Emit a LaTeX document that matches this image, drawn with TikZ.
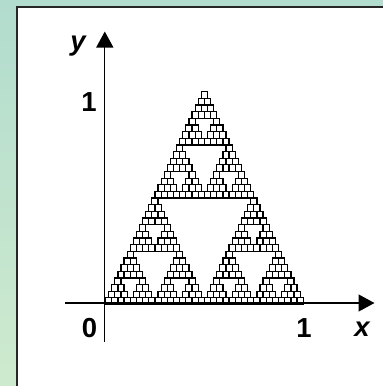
\documentclass[tikz,border=0pt]{standalone}
\usepackage{fontspec}
\setmainfont{Liberation Sans}
\usetikzlibrary{arrows.meta}
\definecolor{bgtop}{RGB}{178,220,206}
\definecolor{bgbot}{RGB}{206,234,206}
\tikzset{
  axis/.style={line width=1.3pt, black, -{Triangle[length=16pt,width=17pt]}},
  sq/.style={draw=black, fill=white, line width=1.25pt},
  lab/.style={font=\fontsize{27.5}{27.5}\selectfont\bfseries, inner sep=0pt},
  panel/.style={fill=white, draw=black!85, line width=2pt}
}
\begin{document}
\begin{tikzpicture}[x=1pt,y=-1pt]
\useasboundingbox (0,0) rectangle (383,386);
\clip (0,0) rectangle (383,386);
\shade[top color=bgtop, bottom color=bgbot] (0,0) rectangle (383,386);
\draw[panel] (17,6.5) rectangle (420,420);
% Sierpinski triangle of squares
\def\w{6.18}
\def\h{6.65}
\foreach \ax/\ar in {0/0,-1/1,1/1}{
 \foreach \bx/\br in {0/0,-1/1,1/1}{
  \foreach \cx/\cr in {0/0,-1/1,1/1}{
   \foreach \dx/\dr in {0/0,-1/1,1/1}{
    \foreach \ex/\er in {0/0,-1/1,1/1}{
     \pgfmathsetmacro\col{0.5*\ax+1*\bx+2*\cx+4*\dx+8*\ex}
     \pgfmathsetmacro\row{\ar+2*\br+4*\cr+8*\dr+16*\er}
     \pgfmathsetmacro\px{204.4+\w*\col-\w/2}
     \pgfmathsetmacro\py{91.7+\h*\row}
     \draw[sq] (\px,\py) rectangle ++(\w,\h);
    }}}}}
% axes
\coordinate (xs) at (65,303);
\coordinate (xe) at (374.5,303);
\coordinate (ys) at (104.8,341.7);
\coordinate (ye) at (104.8,31.5);
\draw[axis] (xs) -- (xe);
\draw[axis] (ys) -- (ye);
% labels
\node[lab] (ylab) at (78,46) {\itshape y};
\node[lab] (one1) at (89,102.5) {1};
\node[lab] (zero) at (89.5,328) {0};
\node[lab] (one2) at (304,328) {1};
\node[lab] (xlab) at (362,329) {\itshape x};
\end{tikzpicture}
\end{document}
